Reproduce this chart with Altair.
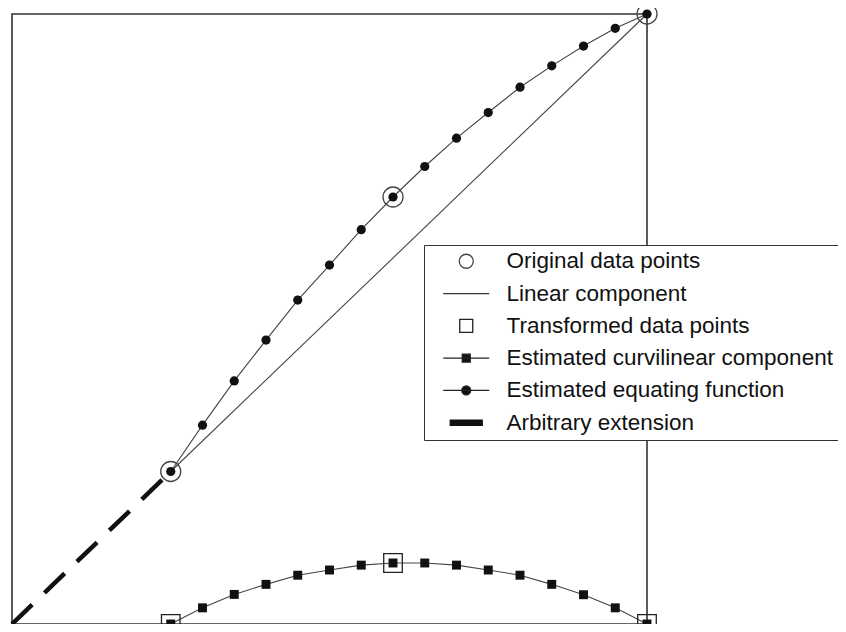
import altair as alt
import pandas as pd

# ---- data ----
x_grid = [5, 6, 7, 8, 9, 10, 11, 12, 13, 14, 15, 16, 17, 18, 19, 20]
equating_y = [5.0, 6.52, 7.97, 9.31, 10.62, 11.77, 12.93, 14.0, 15.0, 15.93, 16.77, 17.6, 18.3, 18.95, 19.53, 20.0]
curvilinear_y = [0.0, 0.53, 0.97, 1.30, 1.60, 1.77, 1.93, 2.0, 2.0, 1.93, 1.77, 1.60, 1.30, 0.96, 0.53, 0.0]
original_x = [5, 12, 20]
original_y = [5.0, 14.0, 20.0]
transformed_x = [5, 12, 20]
transformed_y = [0.0, 2.0, 0.0]
linear_x = [5, 20]
linear_y = [5.0, 20.0]
extension_x = [0, 5]
extension_y = [0.0, 5.0]

series_names = [
    "Original data points",
    "Linear component",
    "Transformed data points",
    "Estimated curvilinear component",
    "Estimated equating function",
    "Arbitrary extension",
]

# legend / marker symbol paths (units: 10 px in legend)
shape_paths = [
    "M-0.7,0A0.7,0.7,0,1,0,0.7,0A0.7,0.7,0,1,0,-0.7,0Z",
    "M-2.3,0L2.3,0",
    "M-0.65,-0.65L0.65,-0.65L0.65,0.65L-0.65,0.65Z",
    "M-2.3,0L2.3,0M-0.4,-0.4L0.4,-0.4L0.4,0.4L-0.4,0.4Z",
    "M-2.3,0L2.3,0M-0.45,0A0.45,0.45,0,1,0,0.45,0A0.45,0.45,0,1,0,-0.45,0Z",
    "M-1.6,-0.25L1.6,-0.25L1.6,0.25L-1.6,0.25Z",
]
fill_colors = ["transparent", "transparent", "transparent", "#111", "#111", "#111"]
stroke_colors = ["#444", "#333", "#222", "#222", "#222", "#111"]

xs = alt.Scale(domain=[0, 20], nice=False, zero=False)
ys = alt.Scale(domain=[0, 20], nice=False, zero=False)

eq_df = pd.DataFrame({"x": x_grid, "y": equating_y})
cur_df = pd.DataFrame({"x": x_grid, "y": curvilinear_y})
lin_df = pd.DataFrame({"x": linear_x, "y": linear_y})
ext_df = pd.DataFrame({"x": extension_x, "y": extension_y})
pts_df = pd.concat([
    pd.DataFrame({"x": original_x, "y": original_y, "series": series_names[0]}),
    pd.DataFrame({"x": transformed_x, "y": transformed_y, "series": series_names[2]}),
])

X = alt.X("x:Q", scale=xs, axis=None)
Y = alt.Y("y:Q", scale=ys, axis=None)

extension = alt.Chart(ext_df).mark_line(
    color="#111", strokeWidth=4.5, strokeDash=[28, 17], strokeCap="butt"
).encode(x=X, y=Y)

linear = alt.Chart(lin_df).mark_line(color="#444", strokeWidth=1.1).encode(x=X, y=Y)

eq_line = alt.Chart(eq_df).mark_line(color="#444", strokeWidth=1.1).encode(x=X, y=Y)
eq_pts = alt.Chart(eq_df).mark_point(
    shape="circle", filled=True, color="#111", size=85, opacity=1
).encode(x=X, y=Y)

cur_line = alt.Chart(cur_df).mark_line(color="#444", strokeWidth=1.1).encode(x=X, y=Y)
cur_pts = alt.Chart(cur_df).mark_point(
    shape="square", filled=True, color="#111", size=80, opacity=1
).encode(x=X, y=Y)

legend = alt.Legend(
    title=None,
    orient="none",
    legendX=412,
    legendY=231,
    symbolSize=400,
    symbolStrokeWidth=1.3,
    symbolOffset=26,
    labelFont="Liberation Sans",
    labelFontSize=22.5,
    labelColor="#111",
    labelLimit=600,
    labelOffset=29,
    padding=5,
    rowPadding=9.3,
    strokeColor="#333",
    fillColor="white",
    cornerRadius=0,
)

marks = alt.Chart(pts_df).mark_point(
    strokeWidth=1.3, opacity=1, size=816
).encode(
    x=X,
    y=Y,
    shape=alt.Shape("series:N", scale=alt.Scale(domain=series_names, range=shape_paths), legend=legend),
    fill=alt.Fill("series:N", scale=alt.Scale(domain=series_names, range=fill_colors), legend=legend),
    stroke=alt.Stroke("series:N", scale=alt.Scale(domain=series_names, range=stroke_colors), legend=legend),
)

chart = alt.layer(extension, linear, eq_line, eq_pts, cur_line, cur_pts, marks).properties(
    width=635,
    height=610,
    background="white",
    padding={"left": 4, "top": 6, "right": 191, "bottom": 0},
    autosize=alt.AutoSizeParams(type="none"),
).configure_view(
    stroke="#333", strokeWidth=1.6
)

chart.save("out.html", embed_options={"renderer": "svg", "actions": False})
